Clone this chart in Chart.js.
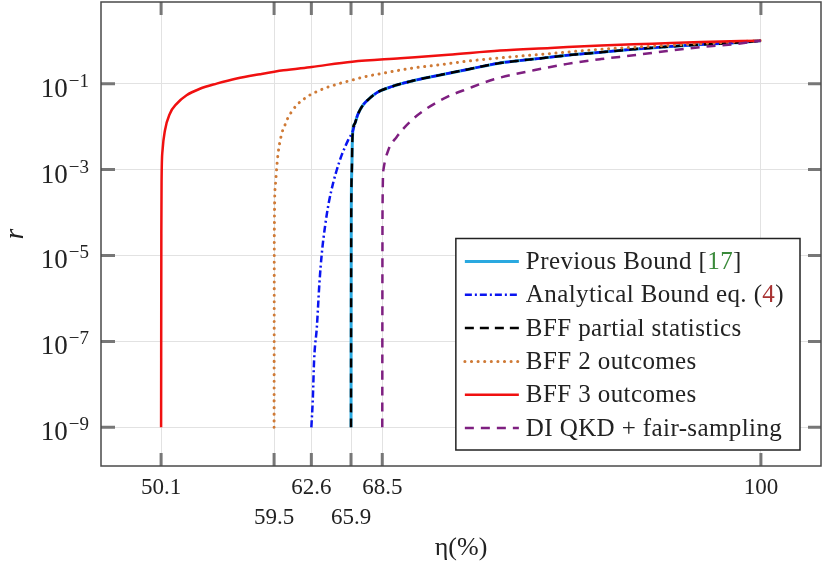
<!DOCTYPE html>
<html>
<head>
<meta charset="utf-8">
<script src="https://cdn.jsdelivr.net/npm/chart.js@4.4.1/dist/chart.umd.min.js"></script>
<style>
  html, body { margin: 0; padding: 0; background: #fff; }
  canvas { display: block; }
</style>
</head>
<body>
<canvas id="bound-chart" width="824" height="572" style="width:824px;height:572px"></canvas>
<script>
// axis ticks (eta in %, r on log scale)
const etaTicks = [50.1, 59.5, 62.6, 65.9, 68.5, 100];
const etaTickLabels = ['50.1', '59.5', '62.6', '65.9', '68.5', '100'];
const etaLowerRow = [59.5, 65.9];
const rTicks = [1e-1, 1e-3, 1e-5, 1e-7, 1e-9];
const rTickExponents = ['−1', '−3', '−5', '−7', '−9'];

// Previous Bound [17] / BFF partial statistics (same curve)
const prevEta = [65.9, 65.92, 65.97, 66.0, 66.05, 66.23, 66.45, 66.65, 66.95, 67.34, 67.75, 68.17, 69.28, 70.39, 71.22, 72.8, 75.6, 78.3, 81.1, 83.9, 86.7, 89.4, 92.2, 95.0, 97.8, 100];
const prevR = [1e-9, 1e-4, 1e-3, 3.55e-3, 7.9e-3, 0.0120, 0.0186, 0.0245, 0.0331, 0.0427, 0.0537, 0.0646, 0.0851, 0.105, 0.120, 0.148, 0.214, 0.302, 0.372, 0.457, 0.537, 0.631, 0.724, 0.813, 0.891, 1];
const partialEta = prevEta;
const partialR = prevR;

// Analytical Bound eq. (4)
const analyticEta = [62.6, 62.72, 62.83, 63.06, 63.27, 63.47, 63.75, 64.03, 64.44, 64.7, 65.13, 65.67, 66.05, 66.23, 66.45, 66.65, 66.95, 67.34, 67.75, 68.17, 69.28, 70.39, 71.22, 72.8, 75.6, 78.3, 81.1, 83.9, 86.7, 89.4, 92.2, 95.0, 97.8, 100];
const analyticR = [1e-9, 4.4e-9, 3.7e-8, 2.2e-7, 2.24e-6, 1.12e-5, 5.0e-5, 1.58e-4, 5.2e-4, 9.5e-4, 2.19e-3, 4.9e-3, 7.9e-3, 0.0120, 0.0186, 0.0245, 0.0331, 0.0427, 0.0537, 0.0646, 0.0851, 0.105, 0.120, 0.148, 0.214, 0.302, 0.372, 0.457, 0.537, 0.631, 0.724, 0.813, 0.891, 1];

// BFF 2 outcomes
const twoEta = [59.5, 59.52, 59.6, 59.72, 59.85, 59.99, 60.18, 60.41, 60.63, 60.97, 61.38, 61.93, 62.57, 63.18, 63.88, 64.57, 65.26, 65.96, 67.06, 68.73, 70.95, 72.75, 75.5, 78.3, 82.5, 86.7, 91.0, 95.0, 100];
const twoR = [1e-9, 3.2e-5, 4.0e-4, 1.12e-3, 2.57e-3, 4.47e-3, 7.6e-3, 0.0110, 0.0155, 0.0224, 0.0316, 0.0427, 0.0562, 0.0676, 0.0813, 0.0933, 0.107, 0.120, 0.145, 0.178, 0.229, 0.263, 0.331, 0.398, 0.501, 0.631, 0.741, 0.851, 1];

// BFF 3 outcomes
const threeEta = [50.1, 50.12, 50.14, 50.22, 50.42, 50.83, 51.39, 52.22, 53.33, 54.72, 56.39, 58.33, 60.28, 62.63, 66.0, 70.0, 74.0, 78.3, 82.5, 86.7, 91.0, 95.0, 100];
const threeR = [1e-9, 3.2e-5, 5.6e-4, 2.82e-3, 8.1e-3, 0.0200, 0.0339, 0.0537, 0.0759, 0.100, 0.132, 0.166, 0.204, 0.245, 0.324, 0.389, 0.468, 0.589, 0.676, 0.776, 0.851, 0.933, 1];

// DI QKD + fair-sampling
const qkdEta = [68.5, 68.52, 68.6, 69.0, 69.7, 70.8, 72.2, 73.9, 75.6, 77.8, 81.1, 83.9, 86.7, 89.4, 92.2, 95.0, 97.8, 100];
const qkdR = [1e-9, 1e-4, 1e-3, 2.82e-3, 5.75e-3, 0.0129, 0.0263, 0.0490, 0.0759, 0.126, 0.204, 0.288, 0.372, 0.457, 0.575, 0.708, 0.832, 1];

const refColors = { '17': '#3a8a3a', '4': '#a83232' };
const ink = '#222';
const serif = '"Liberation Serif", serif';

const toPoints = (xs, ys) => xs.map((x, i) => ({ x: x, y: ys[i] }));

Chart.defaults.font.family = serif;
Chart.defaults.color = ink;

// ticks drawn inward on all four sides, dark frame, and y labels as 10 with raised exponent
const frameTicks = {
    id: 'frameTicks',
    afterDatasetsDraw(chart) {
        const { ctx, chartArea: a, scales: { x, y } } = chart;
        ctx.save();
        ctx.strokeStyle = '#777';
        ctx.lineWidth = 3;
        ctx.beginPath();
        x.ticks.forEach(t => {
            const px = x.getPixelForValue(t.value);
            ctx.moveTo(px, a.bottom); ctx.lineTo(px, a.bottom - 13);
            ctx.moveTo(px, a.top); ctx.lineTo(px, a.top + 13);
        });
        y.ticks.forEach(t => {
            const py = y.getPixelForValue(t.value);
            ctx.moveTo(a.left, py); ctx.lineTo(a.left + 14, py);
            ctx.moveTo(a.right, py); ctx.lineTo(a.right - 13, py);
        });
        ctx.stroke();
        ctx.strokeStyle = '#4a4a4a';
        ctx.lineWidth = 1.5;
        ctx.strokeRect(a.left, a.top, a.width, a.height);

        ctx.fillStyle = ink;
        ctx.textBaseline = 'alphabetic';
        ctx.textAlign = 'left';
        y.ticks.forEach(t => {
            const py = y.getPixelForValue(t.value);
            const exp = rTickExponents[rTicks.indexOf(t.value)];
            ctx.font = '19px ' + serif;
            const ew = ctx.measureText(exp).width;
            ctx.font = '27px ' + serif;
            const bw = ctx.measureText('10').width;
            const x0 = a.left - 13 - ew - bw;
            ctx.fillText('10', x0, py + 13);
            ctx.font = '19px ' + serif;
            ctx.fillText(exp, x0 + bw + 1, py + 3);
        });
        ctx.restore();
    }
};

// legend box, bottom right, with coloured reference numbers
const legendBox = {
    id: 'legendBox',
    afterDraw(chart) {
        const { ctx, chartArea: a } = chart;
        const sets = chart.data.datasets;
        ctx.save();
        ctx.font = '25px ' + serif;
        ctx.letterSpacing = '0.4px';
        const textW = Math.max(...sets.map(d => ctx.measureText(d.label).width));
        const rowH = 33.3;
        const w = 70 + textW + 16;
        const h = rowH * (sets.length - 1) + 45;
        const right = a.right - 21, bottom = a.bottom - 16;
        const left = right - w, top = bottom - h;
        ctx.fillStyle = '#fff';
        ctx.fillRect(left, top, w, h);
        ctx.strokeStyle = ink;
        ctx.lineWidth = 1.5;
        ctx.strokeRect(left, top, w, h);
        sets.forEach((d, i) => {
            const cy = top + 23 + i * rowH;
            ctx.beginPath();
            ctx.setLineDash(d.borderDash || []);
            ctx.lineCap = d.borderCapStyle || 'butt';
            ctx.strokeStyle = d.borderColor;
            ctx.lineWidth = d.borderWidth;
            ctx.moveTo(left + 9, cy);
            ctx.lineTo(left + 63, cy);
            ctx.stroke();
            ctx.setLineDash([]);
            ctx.textBaseline = 'middle';
            ctx.textAlign = 'left';
            let tx = left + 70;
            const m = d.label.match(/^(.*[\[(])(\d+)([\])])$/);
            const parts = m ? [[m[1], ink], [m[2], refColors[m[2]]], [m[3], ink]] : [[d.label, ink]];
            parts.forEach(([s, c]) => {
                ctx.fillStyle = c;
                ctx.fillText(s, tx, cy + 1);
                tx += ctx.measureText(s).width;
            });
        });
        ctx.restore();
    }
};

const ctx = document.getElementById('bound-chart').getContext('2d');
const boundChart = new Chart(ctx, {
    type: 'line',
    data: {
        datasets: [
            {
                label: 'Previous Bound [17]',
                data: toPoints(prevEta, prevR),
                borderColor: '#2aa9e0',
                borderWidth: 3,
                order: 6,
            },
            {
                label: 'Analytical Bound eq. (4)',
                data: toPoints(analyticEta, analyticR),
                borderColor: '#0a14f0',
                borderWidth: 2.5,
                borderDash: [7, 3, 2, 3],
                order: 5,
            },
            {
                label: 'BFF partial statistics',
                data: toPoints(partialEta, partialR),
                borderColor: '#000000',
                borderWidth: 2.5,
                borderDash: [9, 6],
                order: 4,
            },
            {
                label: 'BFF 2 outcomes',
                data: toPoints(twoEta, twoR),
                borderColor: '#cf7a36',
                borderWidth: 3,
                borderDash: [0.1, 6.5],
                borderCapStyle: 'round',
                order: 3,
            },
            {
                label: 'BFF 3 outcomes',
                data: toPoints(threeEta, threeR),
                borderColor: '#f01010',
                borderWidth: 2.5,
                order: 2,
            },
            {
                label: 'DI QKD + fair-sampling',
                data: toPoints(qkdEta, qkdR),
                borderColor: '#7e1f80',
                borderWidth: 2.5,
                borderDash: [9, 7],
                order: 1,
            },
        ],
    },
    options: {
        responsive: false,
        animation: false,
        events: [],
        elements: {
            point: { radius: 0 },
            line: { cubicInterpolationMode: 'monotone', fill: false },
        },
        layout: { padding: { top: 2, right: 3, left: 0, bottom: 0 } },
        plugins: {
            legend: { display: false },
            tooltip: { enabled: false },
        },
        scales: {
            x: {
                type: 'linear',
                bounds: 'data',
                min: 45.1,
                max: 105,
                afterBuildTicks: scale => { scale.ticks = etaTicks.map(v => ({ value: v })); },
                afterFit: scale => {
                    scale.height = 106;
                    scale.paddingLeft = 0;
                    scale.paddingRight = 0;
                },
                grid: { color: '#e2e2e2', lineWidth: 1, drawTicks: false },
                border: { display: false },
                ticks: {
                    autoSkip: false,
                    maxRotation: 0,
                    padding: 7,
                    color: ink,
                    font: { size: 23, lineHeight: 1.3 },
                    callback: value => {
                        const s = etaTickLabels[etaTicks.indexOf(value)];
                        return etaLowerRow.includes(value) ? ['', s] : s;
                    },
                },
                title: {
                    display: true,
                    text: 'η(%)',
                    color: ink,
                    font: { size: 26 },
                    padding: { top: 0, bottom: 8 },
                },
            },
            y: {
                type: 'logarithmic',
                bounds: 'data',
                min: 1.26e-10,
                max: 7.94,
                afterBuildTicks: scale => { scale.ticks = rTicks.map(v => ({ value: v })); },
                afterFit: scale => {
                    scale.width = 101;
                    scale.paddingTop = 0;
                    scale.paddingBottom = 0;
                },
                grid: { color: '#e2e2e2', lineWidth: 1, drawTicks: false },
                border: { display: false },
                ticks: { display: false, autoSkip: false },
                title: {
                    display: true,
                    text: 'r',
                    color: ink,
                    font: { size: 27, style: 'italic' },
                    padding: { top: 0, bottom: 0 },
                },
            },
        },
    },
    plugins: [frameTicks, legendBox],
});
</script>
</body>
</html>
